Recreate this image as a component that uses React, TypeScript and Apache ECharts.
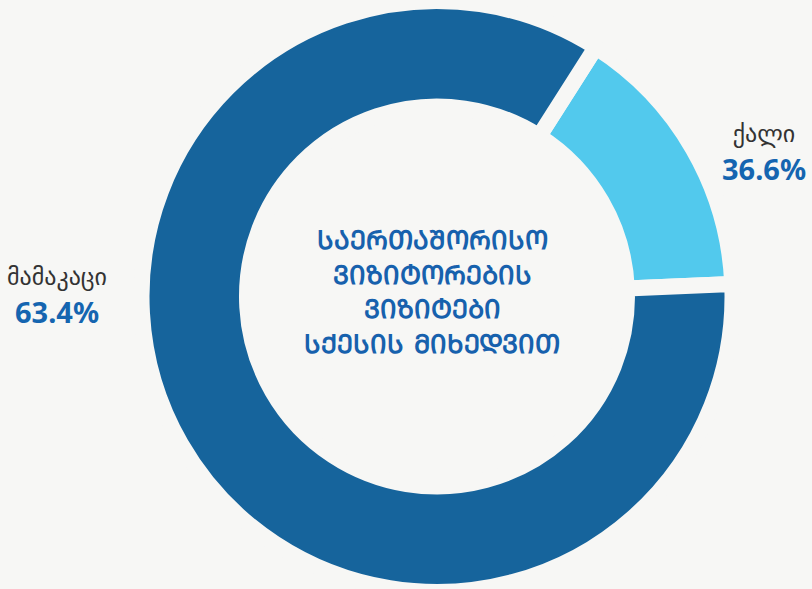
import React, { useEffect, useRef } from "react";
import * as echarts from "echarts";

const categories = ["ქალი", "მამაკაცი"];
// arc shares as drawn in the picture
const arcShares = [15.3, 84.7];
// percentages printed in the labels
const percentLabels = ["36.6%", "63.4%"];
const sliceColors = ["#52c9ed", "#16649c"];
const titleLines = ["ᲡᲐᲔᲠᲗᲐᲨᲝᲠᲘᲡᲝ", "ᲕᲘᲖᲘᲢᲝᲠᲔᲑᲘᲡ", "ᲕᲘᲖᲘᲢᲔᲑᲘ", "ᲡᲥᲔᲡᲘᲡ ᲛᲘᲮᲔᲓᲕᲘᲗ"];

const BG = "#f7f7f5";

export default function App() {
  const ref = useRef<HTMLDivElement>(null);
  useEffect(() => {
    document.body.style.margin = "0";
    const chart = echarts.init(ref.current!, null, { renderer: "svg" });
    const labelPos = [
      { x: 764, y: 151 },
      { x: 57, y: 294 },
    ];
    chart.setOption({
      animation: false,
      backgroundColor: BG,
      graphic: [
        {
          type: "text",
          x: 432,
          y: 292,
          style: {
            text: titleLines.join("\n"),
            fill: "#1761ad",
            font: "bold 26px 'DejaVu Sans', 'Noto Sans', sans-serif",
            lineHeight: 34.5,
            align: "center",
            verticalAlign: "middle",
          },
        },
      ],
      series: [
        {
          type: "pie",
          center: [437, 296.5],
          radius: [190, 295.5],
          startAngle: 57.5,
          clockwise: true,
          avoidLabelOverlap: false,
          itemStyle: { borderColor: BG, borderWidth: 16 },
          emphasis: { disabled: true },
          label: {
            show: true,
            position: "outside",
            align: "center",
            formatter: (p: any) => `{n|${p.name}}\n{v|${percentLabels[p.dataIndex]}}`,
            rich: {
              n: {
                fontFamily: "'DejaVu Sans', sans-serif",
                fontSize: 24,
                color: "#333333",
                lineHeight: 35,
                width: 130,
                align: "center",
              },
              v: {
                fontFamily: "'Noto Sans', 'Open Sans', sans-serif",
                fontWeight: "bold",
                fontSize: 29,
                color: "#1565b0",
                lineHeight: 35,
                width: 130,
                align: "center",
              },
            },
          },
          labelLine: { show: false },
          labelLayout: (params: any) => ({
            x: labelPos[params.dataIndex].x,
            y: labelPos[params.dataIndex].y,
            align: "center",
            verticalAlign: "middle",
          }),
          data: categories.map((c, i) => ({
            name: c,
            value: arcShares[i],
            itemStyle: { color: sliceColors[i] },
          })),
        },
      ],
    });
    return () => chart.dispose();
  }, []);
  return <div ref={ref} style={{ position: "fixed", left: 0, top: 0, width: 812, height: 589 }} />;
}
